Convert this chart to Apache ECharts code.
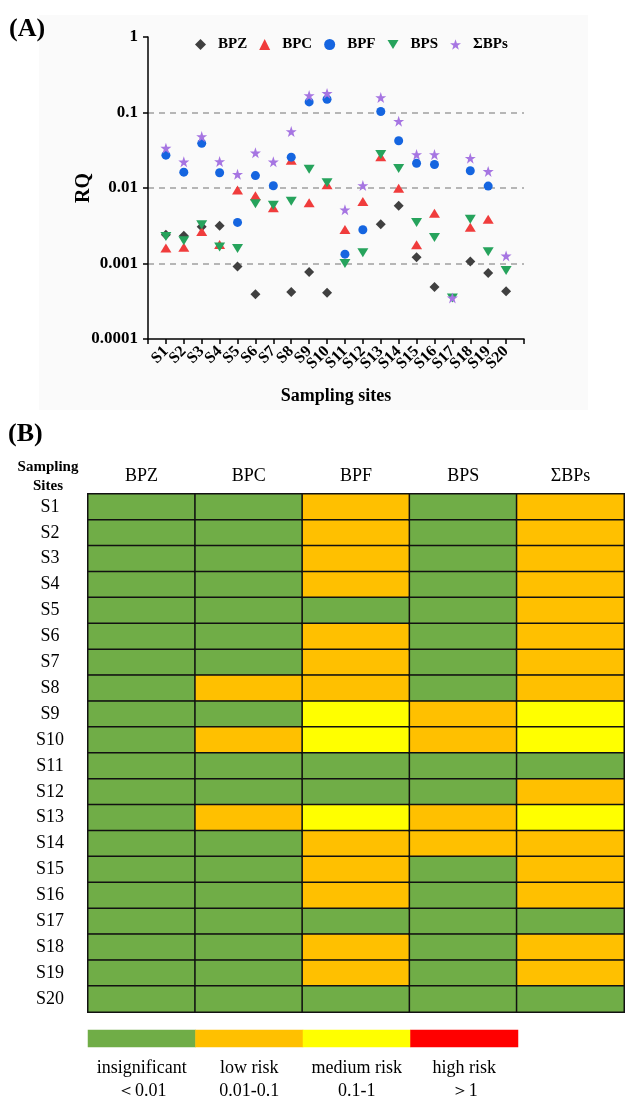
<!DOCTYPE html>
<html>
<head>
<meta charset="utf-8">
<script src="https://cdn.jsdelivr.net/npm/echarts@6/dist/echarts.min.js"></script>
<style>
    html, body {margin: 0; padding: 0; background: #fff;}
    #RiskChart {width: 625px; height: 1103px;}
</style>
</head>
<body>
<div id="RiskChart"></div>
<script>
var sites = ['S1', 'S2', 'S3', 'S4', 'S5', 'S6', 'S7', 'S8', 'S9', 'S10',
    'S11', 'S12', 'S13', 'S14', 'S15', 'S16', 'S17', 'S18', 'S19', 'S20'];
var compounds = ['BPZ', 'BPC', 'BPF', 'BPS', 'ΣBPs'];

// RQ values (log scale), null = not shown
var rqBPZ = [0.0024, 0.00233, 0.00306, 0.00316, 0.00091, 0.00039, null, 0.00042, 0.00077, 0.00041,
    null, null, 0.00332, 0.0058, 0.00121, 0.00049, null, 0.00106, 0.00075, 0.00043];
var rqBPC = [0.0016, 0.00164, 0.00265, 0.00179, 0.0094, 0.0079, 0.00547, 0.0233, 0.00636, 0.011,
    0.00282, 0.0066, 0.0259, 0.0099, 0.00177, 0.00464, null, 0.00303, 0.00386, null];
var rqBPF = [0.0272, 0.0162, 0.039, 0.0159, 0.0035, 0.0146, 0.0107, 0.0256, 0.138, 0.15,
    0.00133, 0.0028, 0.103, 0.0422, 0.0213, 0.0205, null, 0.0169, 0.0106, null];
var rqBPS = [0.00228, 0.002, 0.00326, 0.00166, 0.00158, 0.0062, 0.0059, 0.0067, 0.0177, 0.0117,
    0.001, 0.00139, 0.0278, 0.0181, 0.0035, 0.00221, 0.00035, 0.00386, 0.00143, 0.00081];
var rqSum = [0.0337, 0.0222, 0.048, 0.0224, 0.0152, 0.0292, 0.0222, 0.056, 0.168, 0.179,
    0.00514, 0.0108, 0.158, 0.0767, 0.0278, 0.0278, 0.00035, 0.0248, 0.0166, 0.00126];

// risk level per site: 0 insignificant, 1 low, 2 medium, 3 high
var levelBPZ = [0, 0, 0, 0, 0, 0, 0, 0, 0, 0, 0, 0, 0, 0, 0, 0, 0, 0, 0, 0];
var levelBPC = [0, 0, 0, 0, 0, 0, 0, 1, 0, 1, 0, 0, 1, 0, 0, 0, 0, 0, 0, 0];
var levelBPF = [1, 1, 1, 1, 0, 1, 1, 1, 2, 2, 0, 0, 2, 1, 1, 1, 0, 1, 1, 0];
var levelBPS = [0, 0, 0, 0, 0, 0, 0, 0, 1, 1, 0, 0, 1, 1, 0, 0, 0, 0, 0, 0];
var levelSum = [1, 1, 1, 1, 1, 1, 1, 1, 2, 2, 0, 1, 2, 1, 1, 1, 0, 1, 1, 0];

var riskNames = ['insignificant', 'low risk', 'medium risk', 'high risk'];
var riskRanges = ['＜0.01', '0.01-0.1', '0.1-1', '＞1'];
var riskColors = ['#70ad47', '#ffc000', '#ffff00', '#ff0000'];

var serif = "'Liberation Serif', 'Times New Roman', serif";
var starPath = 'path://M50,0 L61.8,35.1 L98.1,35.1 L68.7,56.8 L79.4,91.9 L50,70.2 L20.6,91.9 L31.3,56.8 L1.9,35.1 L38.2,35.1 Z';
var downTriPath = 'path://M0,0 L11,0 L5.5,9 Z';

function toPoints(arr) {
    var out = [];
    for (var i = 0; i < arr.length; i++) {
        if (arr[i] != null) out.push([i + 1, arr[i]]);
    }
    return out;
}

var rqList = [rqBPZ, rqBPC, rqBPF, rqBPS, rqSum];
var levelList = [levelBPZ, levelBPC, levelBPF, levelBPS, levelSum];
var markerSymbol = ['diamond', 'triangle', 'circle', downTriPath, starPath];
var markerSize = [[10, 10], [11, 9], [9, 9], [11, 9], [11, 11]];
var markerColor = ['#404040', '#f03c3c', '#1565e0', '#26a35c', '#a675e2'];

var heatData = [];
for (var c = 0; c < levelList.length; c++) {
    for (var r = 0; r < sites.length; r++) {
        heatData.push([c, r, levelList[c][r]]);
    }
}
var barData = [];
for (var k = 0; k < riskNames.length; k++) {
    barData.push([k, 0, k]);
}

var myChart = echarts.init(document.getElementById('RiskChart'));

var series = [];
for (var s = 0; s < compounds.length; s++) {
    series.push({
        name: compounds[s],
        type: 'scatter',
        xAxisIndex: 0,
        yAxisIndex: 0,
        symbol: markerSymbol[s],
        symbolSize: markerSize[s],
        itemStyle: {color: markerColor[s], opacity: 1},
        data: toPoints(rqList[s])
    });
}
series.push({
    type: 'heatmap',
    xAxisIndex: 1,
    yAxisIndex: 1,
    itemStyle: {borderColor: '#111', borderWidth: 1.5},
    data: heatData
});
series.push({
    type: 'heatmap',
    xAxisIndex: 2,
    yAxisIndex: 2,
    itemStyle: {borderWidth: 0},
    data: barData
});

option = {
    animation: false,
    textStyle: {fontFamily: serif},
    graphic: [
        {type: 'rect', z: -100, shape: {x: 39, y: 15, width: 549, height: 395}, style: {fill: '#fafafa'}},
        {type: 'text', left: 9, top: 16, style: {text: '(A)', font: 'bold 26px ' + serif, fill: '#000'}},
        {type: 'text', left: 8, top: 421, style: {text: '(B)', font: 'bold 26px ' + serif, fill: '#000'}},
        {type: 'text', x: 48, y: 477, style: {text: 'Sampling\nSites', font: 'bold 15px ' + serif,
                lineHeight: 19, fill: '#000', align: 'center', verticalAlign: 'middle'}}
    ],
    legend: {
        data: compounds,
        left: 190,
        top: 32,
        itemWidth: 11,
        itemHeight: 11,
        itemGap: 12,
        textStyle: {fontFamily: serif, fontWeight: 'bold', fontSize: 15, color: '#000', padding: [0, 0, 0, 7]}
    },
    visualMap: {
        type: 'piecewise',
        show: false,
        seriesIndex: [5, 6],
        dimension: 2,
        pieces: [
            {value: 0, color: riskColors[0]},
            {value: 1, color: riskColors[1]},
            {value: 2, color: riskColors[2]},
            {value: 3, color: riskColors[3]}
        ]
    },
    grid: [
        {left: 148, top: 37, width: 376, height: 302},
        {left: 88, top: 494, width: 536, height: 518},
        {left: 88, top: 1030, width: 430, height: 20}
    ],
    xAxis: [
        {
            type: 'value',
            gridIndex: 0,
            min: 0,
            max: 21,
            interval: 1,
            name: 'Sampling sites',
            nameLocation: 'middle',
            nameGap: 48,
            nameTextStyle: {fontFamily: serif, fontWeight: 'bold', fontSize: 18, color: '#000'},
            axisLine: {lineStyle: {color: '#000', width: 1.5}},
            axisTick: {length: 5, lineStyle: {color: '#000', width: 1.5}},
            splitLine: {show: false},
            axisLabel: {
                rotate: 45,
                margin: 10,
                color: '#000',
                fontWeight: 'bold',
                fontSize: 16,
                formatter: function (v) {
                    return sites[v - 1] || '';
                }
            }
        },
        {
            type: 'category',
            gridIndex: 1,
            position: 'top',
            data: compounds,
            axisLine: {show: false},
            axisTick: {show: false},
            axisLabel: {margin: 9, color: '#000', fontSize: 18}
        },
        {
            type: 'category',
            gridIndex: 2,
            data: riskNames,
            axisLine: {show: false},
            axisTick: {show: false},
            axisLabel: {
                interval: 0,
                margin: 10,
                color: '#000',
                fontSize: 18,
                lineHeight: 23,
                formatter: function (v, i) {
                    return v + '\n' + riskRanges[i];
                }
            }
        }
    ],
    yAxis: [
        {
            type: 'log',
            logBase: 10,
            gridIndex: 0,
            min: 0.0001,
            max: 1,
            name: 'RQ',
            nameLocation: 'middle',
            nameGap: 54,
            nameMoveOverlap: false,
            nameTextStyle: {fontFamily: serif, fontWeight: 'bold', fontSize: 20, color: '#000'},
            axisLine: {show: true, lineStyle: {color: '#000', width: 1.5}},
            axisTick: {show: true, length: 5, lineStyle: {color: '#000', width: 1.5}},
            splitLine: {
                show: true,
                showMinLine: false,
                showMaxLine: false,
                lineStyle: {color: '#a0a0a0', width: 1.5, type: [6, 5]}
            },
            axisLabel: {
                margin: 10,
                color: '#000',
                fontWeight: 'bold',
                fontSize: 17,
                formatter: function (v) {
                    return String(+v.toPrecision(1));
                }
            }
        },
        {
            type: 'category',
            gridIndex: 1,
            inverse: true,
            data: sites,
            axisLine: {show: false},
            axisTick: {show: false},
            axisLabel: {margin: 38, align: 'center', color: '#000', fontSize: 18}
        },
        {
            type: 'category',
            gridIndex: 2,
            data: [''],
            show: false
        }
    ],
    series: series
};
myChart.setOption(option);
</script>
</body>
</html>
